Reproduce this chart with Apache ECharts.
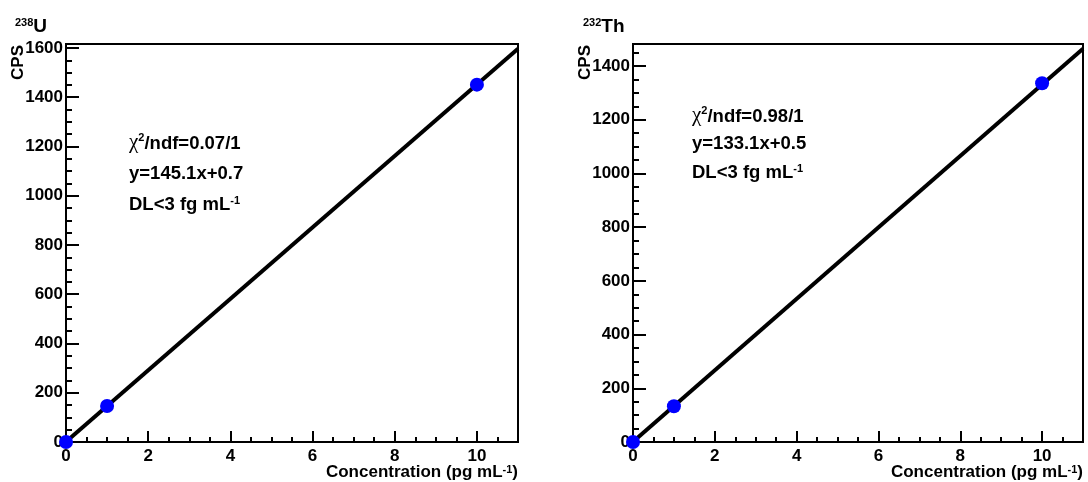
<!DOCTYPE html>
<html>
<head>
<meta charset="utf-8">
<script src="https://cdn.jsdelivr.net/npm/echarts@6/dist/echarts.min.js"></script>
<style>
  html, body { margin: 0; padding: 0; background: #fff; }
  #main { width: 1088px; height: 482px; }
</style>
</head>
<body>
<div id="main"></div>
<script>
// 238U calibration
const uConc = [0, 1, 10];
const uCps = [0, 146, 1451];
const uFitX = [0, 11];
const uFitY = [0.7, 1596.8];
const uYMax = 1616;

// 232Th calibration
const thConc = [0, 1, 10];
const thCps = [0, 133, 1336];
const thFitX = [0, 11];
const thFitY = [0.5, 1464.6];
const thYMax = 1482;

const xMin = 0, xMax = 11, xStep = 2, xMinor = 0.5;
const yStep = 200, yMinor = 50;

const uNotes = ['0.07/1', '145.1x+0.7', '3'];
const thNotes = ['0.98/1', '133.1x+0.5', '3'];

const FONT = 'Liberation Sans, Arial, Helvetica, sans-serif';

const chart = echarts.init(document.getElementById('main'));

function pairs(xs, ys) {
  return xs.map((x, i) => [x, ys[i]]);
}

function majorX(gi) {
  return {
    type: 'value', gridIndex: gi, position: 'bottom',
    min: xMin, max: xMax, interval: xStep,
    axisLine: { show: true, lineStyle: { color: '#000', width: 2 } },
    axisTick: { show: true, inside: true, length: 11, lineStyle: { color: '#000', width: 2 } },
    axisLabel: {
      margin: 6, color: '#000', fontSize: 17, fontWeight: 'bold', fontFamily: FONT,
      formatter: v => (v % xStep === 0 ? String(v) : '')
    },
    splitLine: { show: false },
    name: '{a|Concentration (pg mL}{s|-1}{a|)}',
    nameLocation: 'end', nameGap: 0, nameMoveOverlap: false,
    nameTextStyle: {
      align: 'right', verticalAlign: 'top', padding: [22, 0, 0, 0],
      rich: {
        a: { fontSize: 17, fontWeight: 'bold', fontFamily: FONT, color: '#000', verticalAlign: 'bottom' },
        s: { fontSize: 11, fontWeight: 'bold', fontFamily: FONT, color: '#000', verticalAlign: 'top' }
      }
    }
  };
}

function minorX(gi) {
  return {
    type: 'value', gridIndex: gi, position: 'bottom',
    min: xMin, max: xMax, interval: xMinor,
    axisLine: { show: false },
    axisTick: { show: true, inside: true, length: 5, lineStyle: { color: '#000', width: 2 } },
    axisLabel: { show: false },
    splitLine: { show: false }
  };
}

function majorY(gi, ymax) {
  return {
    type: 'value', gridIndex: gi, position: 'left',
    min: 0, max: ymax, interval: yStep,
    axisLine: { show: true, lineStyle: { color: '#000', width: 2 } },
    axisTick: { show: true, inside: true, length: 13, lineStyle: { color: '#000', width: 2 } },
    axisLabel: {
      margin: 3, color: '#000', fontSize: 17, fontWeight: 'bold', fontFamily: FONT,
      formatter: v => (v % yStep === 0 ? String(v) : '')
    },
    splitLine: { show: false }
  };
}

function minorY(gi, ymax) {
  return {
    type: 'value', gridIndex: gi, position: 'left',
    min: 0, max: ymax, interval: yMinor,
    axisLine: { show: false },
    axisTick: { show: true, inside: true, length: 6, lineStyle: { color: '#000', width: 2 } },
    axisLabel: { show: false },
    splitLine: { show: false }
  };
}

const noteRich = {
  c: { fontSize: 21, fontFamily: 'Liberation Serif, serif', color: '#000', verticalAlign: 'bottom' },
  b: { fontSize: 18.5, fontWeight: 'bold', fontFamily: FONT, color: '#000', verticalAlign: 'bottom' },
  s: { fontSize: 11, fontWeight: 'bold', fontFamily: FONT, color: '#000', verticalAlign: 'top' }
};

function notes(x, ys, t) {
  return [
    { type: 'text', left: x, top: ys[0],
      style: { text: '{c|χ}{s|2}{b|/ndf=' + t[0] + '}', rich: noteRich } },
    { type: 'text', left: x, top: ys[1],
      style: { text: '{b|y=' + t[1] + '}', rich: noteRich } },
    { type: 'text', left: x, top: ys[2],
      style: { text: '{b|DL<' + t[2] + ' fg mL}{s|-1}', rich: noteRich } }
  ];
}

function cpsLabel(cx) {
  return {
    type: 'text', x: cx, y: 45, rotation: Math.PI / 2,
    style: {
      text: 'CPS', fontSize: 17, fontWeight: 'bold', fontFamily: FONT, fill: '#000',
      align: 'right', verticalAlign: 'middle'
    }
  };
}

const titleRich = {
  s: { fontSize: 11, fontWeight: 'bold', fontFamily: FONT, color: '#000', verticalAlign: 'top' },
  b: { fontSize: 19, fontWeight: 'bold', fontFamily: FONT, color: '#000', verticalAlign: 'bottom' }
};

const option = {
  animation: false,
  title: [
    { text: '{s|238}{b|U}', left: 10, top: 12, textStyle: { rich: titleRich } },
    { text: '{s|232}{b|Th}', left: 578, top: 12, textStyle: { rich: titleRich } }
  ],
  grid: [
    { left: 66, top: 44, width: 452, height: 398, show: true, borderColor: '#000', borderWidth: 2, containLabel: false, outerBoundsMode: 'none' },
    { left: 633, top: 44, width: 450, height: 398, show: true, borderColor: '#000', borderWidth: 2, containLabel: false, outerBoundsMode: 'none' },
    { left: 66, top: 44, width: 452, height: 398, containLabel: false, outerBoundsMode: 'none' },
    { left: 633, top: 44, width: 450, height: 398, containLabel: false, outerBoundsMode: 'none' }
  ],
  xAxis: [majorX(0), majorX(1), minorX(2), minorX(3)],
  yAxis: [majorY(0, uYMax), majorY(1, thYMax), minorY(2, uYMax), minorY(3, thYMax)],
  graphic: [
    cpsLabel(18),
    cpsLabel(585),
    ...notes(129, [132, 164, 195], uNotes),
    ...notes(692, [105, 134, 163], thNotes)
  ],
  series: [
    {
      type: 'line', xAxisIndex: 0, yAxisIndex: 0,
      data: pairs(uFitX, uFitY), showSymbol: false, symbol: 'none',
      lineStyle: { color: '#000', width: 4 }, z: 2
    },
    {
      type: 'scatter', xAxisIndex: 0, yAxisIndex: 0, clip: false,
      data: pairs(uConc, uCps), symbolSize: 14,
      itemStyle: { color: '#0000ff', opacity: 1 }, z: 3
    },
    {
      type: 'line', xAxisIndex: 1, yAxisIndex: 1,
      data: pairs(thFitX, thFitY), showSymbol: false, symbol: 'none',
      lineStyle: { color: '#000', width: 4 }, z: 2
    },
    {
      type: 'scatter', xAxisIndex: 1, yAxisIndex: 1, clip: false,
      data: pairs(thConc, thCps), symbolSize: 14,
      itemStyle: { color: '#0000ff', opacity: 1 }, z: 3
    }
  ]
};

chart.setOption(option);

window.addEventListener('resize', function () {
  chart.resize();
});
</script>
</body>
</html>
